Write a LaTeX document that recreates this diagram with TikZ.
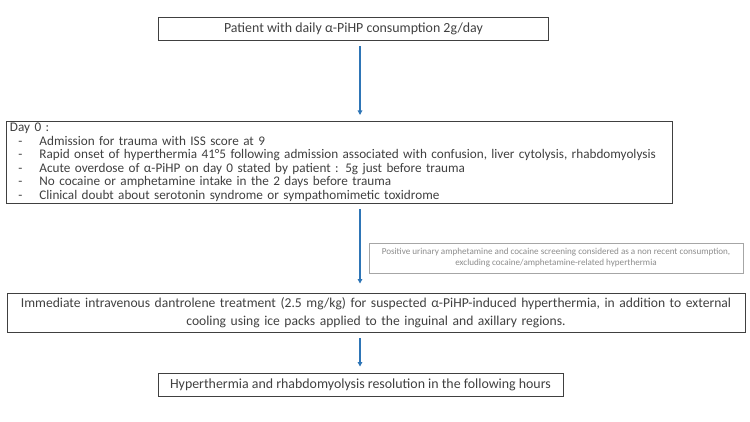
\documentclass[tikz,border=0pt]{standalone}
\usepackage{fontspec}
\setmainfont{Carlito}
\usepackage{tikz}
\usetikzlibrary{positioning,calc,arrows.meta}
\definecolor{boxgray}{HTML}{404040}
\definecolor{notegray}{HTML}{A6A6A6}
\definecolor{notetext}{HTML}{8C8C8C}
\definecolor{flowblue}{HTML}{2E75B6}

\begin{document}
\begin{tikzpicture}[x=1pt,y=-1pt,
    stage/.style={draw=boxgray, line width=0.9pt, text=boxgray, inner sep=0pt, font=\fontsize{13.9}{15}\selectfont},
    note/.style={draw=notegray, line width=0.7pt, text=notetext, inner sep=0pt, align=center, font=\fontsize{9.1}{10.8}\selectfont},
    flow/.style={-{Triangle[length=4.5pt,width=4.5pt]}, flowblue, line width=1.6pt}]
    \useasboundingbox (0,0) rectangle (750,422);
    \coordinate (spine) at (360,0);

    % Start
    \node[stage, minimum width=390pt, minimum height=23pt] (start) at (353.5,28.5)
        {Patient with daily α-PiHP consumption 2g/day};

    % Day 0
    \node[stage, anchor=north west, inner xsep=3.5pt, text width=659pt, minimum height=82pt, align=left,
        font=\fontsize{13.2}{13.5}\selectfont] (day0) at (6,121)
        {Day 0 :\\
        \hspace*{8.5pt}\makebox[21pt][l]{-}Admission for trauma with ISS score at 9\\
        \hspace*{8.5pt}\makebox[21pt][l]{-}Rapid onset of hyperthermia 41°5 following admission associated with confusion, liver cytolysis, rhabdomyolysis\\
        \hspace*{8.5pt}\makebox[21pt][l]{-}Acute overdose of α-PiHP on day 0 stated by patient : 5g just before trauma\\
        \hspace*{8.5pt}\makebox[21pt][l]{-}No cocaine or amphetamine intake in the 2 days before trauma\\
        \hspace*{8.5pt}\makebox[21pt][l]{-}Clinical doubt about serotonin syndrome or sympathomimetic toxidrome};

    % Screening note
    \node[note, minimum width=374pt, minimum height=30pt] (screen) at (556,258)
        {Positive urinary amphetamine and cocaine screening considered as a non recent consumption,\\
        excluding cocaine/amphetamine-related hyperthermia};

    % Treatment
    \node[stage, minimum width=738pt, minimum height=39pt, text width=730pt, align=center,
        font=\fontsize{13.6}{18.5}\selectfont] (treat) at (376,312.5)
        {Immediate intravenous dantrolene treatment (2.5 mg/kg) for suspected α-PiHP-induced hyperthermia, in addition to external\\
        cooling using ice packs applied to the inguinal and axillary regions.};

    % Outcome
    \node[stage, minimum width=405pt, minimum height=23pt] (outcome) at (360.5,384.5)
        {Hyperthermia and rhabdomyolysis resolution in the following hours};

    \draw[flow, shorten <=6pt, shorten >=6pt] (start.south -| spine) -- (day0.north -| spine);
    \draw[flow, shorten <=5pt, shorten >=9pt] (day0.south -| spine) -- (treat.north -| spine);
    \draw[flow, shorten <=6pt, shorten >=6pt] (treat.south -| spine) -- (outcome.north -| spine);
\end{tikzpicture}
\end{document}
